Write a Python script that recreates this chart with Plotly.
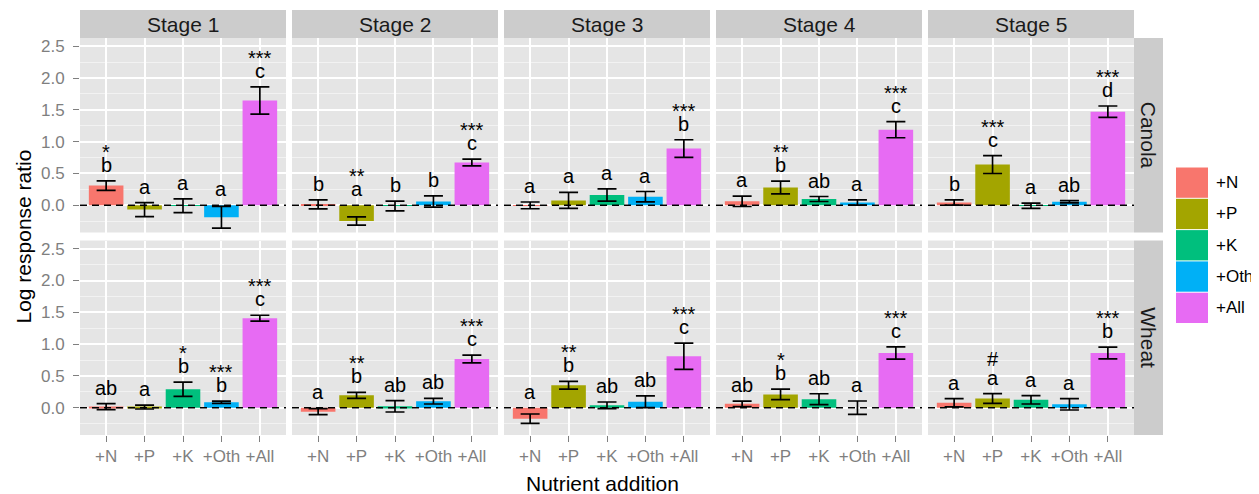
import plotly.graph_objects as go
from plotly.subplots import make_subplots

categories = ["+N", "+P", "+K", "+Oth", "+All"]
stages = ["Stage 1", "Stage 2", "Stage 3", "Stage 4", "Stage 5"]
crops = ["Canola", "Wheat"]
colors = ["#F8766D", "#A3A500", "#00BF7D", "#00B0F6", "#E76BF3"]

canola_mean = [
    [0.308, -0.070, -0.008, -0.190, 1.647],
    [0.013, -0.249, -0.013, 0.058, 0.672],
    [-0.003, 0.074, 0.160, 0.134, 0.890],
    [0.060, 0.278, 0.097, 0.042, 1.187],
    [0.042, 0.638, -0.010, 0.055, 1.471],
]
canola_se = [
    [0.074, 0.110, 0.108, 0.170, 0.215],
    [0.071, 0.066, 0.076, 0.089, 0.053],
    [0.053, 0.126, 0.097, 0.081, 0.139],
    [0.081, 0.100, 0.039, 0.042, 0.126],
    [0.042, 0.140, 0.042, 0.018, 0.089],
]
canola_letters = [
    ["b", "a", "a", "a", "c"],
    ["b", "a", "b", "b", "c"],
    ["a", "a", "a", "a", "b"],
    ["a", "b", "ab", "a", "c"],
    ["b", "c", "a", "ab", "d"],
]
canola_sig = [
    ["*", "", "", "", "***"],
    ["", "**", "", "", "***"],
    ["", "", "", "", "***"],
    ["", "**", "", "", "***"],
    ["", "***", "", "", "***"],
]

wheat_mean = [
    [0.016, 0.010, 0.290, 0.086, 1.407],
    [-0.063, 0.194, 0.021, 0.102, 0.766],
    [-0.173, 0.353, 0.037, 0.092, 0.808],
    [0.060, 0.209, 0.133, 0.000, 0.860],
    [0.076, 0.144, 0.123, 0.052, 0.860],
]
wheat_se = [
    [0.047, 0.031, 0.112, 0.018, 0.047],
    [0.047, 0.047, 0.089, 0.044, 0.060],
    [0.073, 0.060, 0.052, 0.092, 0.207],
    [0.044, 0.084, 0.086, 0.105, 0.097],
    [0.065, 0.076, 0.065, 0.089, 0.092],
]
wheat_letters = [
    ["ab", "a", "b", "b", "c"],
    ["a", "b", "ab", "ab", "c"],
    ["a", "b", "ab", "ab", "c"],
    ["ab", "b", "ab", "a", "c"],
    ["a", "a", "a", "a", "b"],
]
wheat_sig = [
    ["", "", "*", "***", "***"],
    ["", "**", "", "", "***"],
    ["", "**", "", "", "***"],
    ["", "*", "", "", "***"],
    ["", "#", "", "", "***"],
]

means = [canola_mean, wheat_mean]
ses = [canola_se, wheat_se]
letters = [canola_letters, wheat_letters]
sigs = [canola_sig, wheat_sig]

# page has an 8px body margin: figure is sized/offset to compensate
OFF = 8
W, H = 1259 - OFF, 494 - OFF
PX0, PY0 = 80, 38          # plot area top-left in window pixels
PW, PH = 1054, 397         # plot area size
ML, MT = PX0 - OFF, PY0 - OFF
MR = W - ML - PW
MB = H - MT - PH
FONT = "Liberation Sans, Arial, sans-serif"


def px_x(px):
    return (px - PX0) / PW


def px_y(py):
    return (PY0 + PH - py) / PH


fig = make_subplots(rows=2, cols=5, horizontal_spacing=6 / PW, vertical_spacing=8 / PH)

annotations = []
shapes = []
for r in range(2):
    for c in range(5):
        idx = r * 5 + c + 1
        m = means[r][c]
        s = ses[r][c]
        fig.add_trace(
            go.Bar(
                x=categories, y=m, width=0.9,
                marker=dict(color=colors, line=dict(width=0)),
                error_y=dict(type="data", array=s, visible=True, color="black",
                             thickness=1.7, width=9.5),
                showlegend=False, hoverinfo="skip",
            ),
            row=r + 1, col=c + 1,
        )
        xr = "x" if idx == 1 else f"x{idx}"
        yr = "y" if idx == 1 else f"y{idx}"
        shapes.append(dict(type="line", xref=f"{xr} domain", yref=yr, x0=0, x1=1, y0=0, y1=0,
                           line=dict(color="black", width=1.5, dash="7px,5px"), layer="above"))
        for k, cat in enumerate(categories):
            top = max(m[k] + s[k], 0)
            annotations.append(dict(x=cat, y=top, xref=xr, yref=yr, text=letters[r][c][k],
                                    showarrow=False, yanchor="bottom", yshift=3,
                                    font=dict(size=20, color="black", family=FONT)))
            sg = sigs[r][c][k]
            if sg:
                shift = 19 if sg == "#" else 13
                annotations.append(dict(x=cat, y=top, xref=xr, yref=yr, text=sg,
                                        showarrow=False, yanchor="bottom", yshift=3 + shift,
                                        font=dict(size=20, color="black", family=FONT)))

for i in range(1, 11):
    r = (i - 1) // 5
    c = (i - 1) % 5
    fig.update_xaxes(
        type="category", range=[-0.68, 4.68], showgrid=True, gridcolor="white", gridwidth=1.6,
        zeroline=False, showline=False,
        ticks="outside" if r == 1 else "", ticklen=6, tickwidth=1, tickcolor="#7F7F7F",
        showticklabels=(r == 1), tickfont=dict(size=17, color="#7F7F7F", family=FONT),
        row=r + 1, col=c + 1,
    )
    fig.update_yaxes(
        range=[-0.43, 2.63], tickvals=[0, 0.5, 1.0, 1.5, 2.0, 2.5],
        ticktext=["0.0", "0.5", "1.0", "1.5", "2.0", "2.5"],
        showgrid=True, gridcolor="white", gridwidth=1.6, zeroline=False, showline=False,
        minor=dict(tickvals=[-0.25, 0.25, 0.75, 1.25, 1.75, 2.25], showgrid=True,
                   gridcolor="#F2F2F2", gridwidth=0.8, ticks=""),
        ticks="outside" if c == 0 else "", ticklen=6, tickwidth=1, tickcolor="#7F7F7F",
        ticklabelstandoff=5,
        showticklabels=(c == 0), tickfont=dict(size=17, color="#7F7F7F", family=FONT),
        row=r + 1, col=c + 1,
    )

# facet strips
strip_top = 28 / PH
strip_right = 29 / PW
for c, st in enumerate(stages):
    xa = fig.layout["xaxis" if c == 0 else f"xaxis{c + 1}"]
    d0, d1 = xa.domain
    shapes.append(dict(type="rect", xref="paper", yref="paper", x0=d0, x1=d1, y0=1, y1=1 + strip_top,
                       fillcolor="#CCCCCC", line=dict(width=0), layer="below"))
    annotations.append(dict(x=(d0 + d1) / 2, y=1 + strip_top / 2, xref="paper", yref="paper",
                            text=st, showarrow=False, xanchor="center", yanchor="middle",
                            font=dict(size=21, color="#1A1A1A", family=FONT)))
for r, crop in enumerate(crops):
    ya = fig.layout["yaxis" if r == 0 else f"yaxis{r * 5 + 1}"]
    d0, d1 = ya.domain
    shapes.append(dict(type="rect", xref="paper", yref="paper", x0=1, x1=1 + strip_right, y0=d0, y1=d1,
                       fillcolor="#CCCCCC", line=dict(width=0), layer="below"))
    annotations.append(dict(x=1 + strip_right / 2, y=(d0 + d1) / 2, xref="paper", yref="paper",
                            text=crop, showarrow=False, textangle=90, xanchor="center", yanchor="middle",
                            font=dict(size=21, color="#1A1A1A", family=FONT)))

# manual legend (ggplot-style keys)
key_top = 167
key_h = 31.3
for k, cat in enumerate(categories):
    y0 = key_top + k * key_h
    shapes.append(dict(type="rect", xref="paper", yref="paper", x0=px_x(1176), x1=px_x(1208),
                       y0=px_y(y0 + key_h - 0.5), y1=px_y(y0 + 0.5),
                       fillcolor=colors[k], line=dict(width=0)))
    annotations.append(dict(x=px_x(1214), y=px_y(y0 + key_h / 2), xref="paper", yref="paper",
                            text=cat, showarrow=False, xanchor="left", yanchor="middle",
                            font=dict(size=17, color="black", family=FONT)))

# axis titles
annotations.append(dict(x=px_x(602), y=px_y(483), xref="paper", yref="paper", text="Nutrient addition",
                        showarrow=False, xanchor="center", yanchor="middle",
                        font=dict(size=21, color="black", family=FONT)))
annotations.append(dict(x=px_x(23), y=0.5, xref="paper", yref="paper", text="Log response ratio",
                        showarrow=False, textangle=-90, xanchor="center", yanchor="middle",
                        font=dict(size=21, color="black", family=FONT)))

fig.update_layout(
    width=W, height=H, margin=dict(l=ML, r=MR, t=MT, b=MB),
    plot_bgcolor="#E5E5E5", paper_bgcolor="white",
    showlegend=False, shapes=shapes, annotations=annotations,
    font=dict(family=FONT),
)

fig.write_html("out.html")
